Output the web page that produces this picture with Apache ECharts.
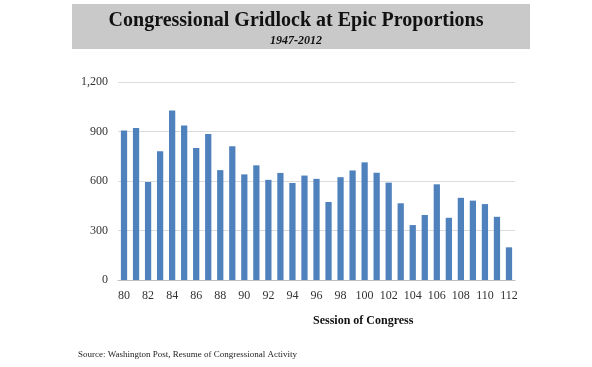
<!DOCTYPE html>
<html><head><meta charset="utf-8">
<script src="https://cdn.jsdelivr.net/npm/echarts@6/dist/echarts.min.js"></script>
<style>html,body{margin:0;padding:0;background:#fff}#c{width:592px;height:367px}</style>
</head><body><div id="c"></div>
<script>
const sessions = ['80','81','82','83','84','85','86','87','88','89','90','91','92','93','94','95','96','97','98','99','100','101','102','103','104','105','106','107','108','109','110','111','112'];
const lawsPassed = [906,921,594,781,1028,936,800,885,666,810,640,695,607,649,588,633,613,473,623,664,713,650,590,465,333,394,580,377,498,481,460,383,198];
const yTicks = [0,300,600,900,1200];

const chart = echarts.init(document.getElementById('c'), null, {renderer:'canvas'});
const serif = '"Liberation Serif","Times New Roman",serif';
chart.setOption({
  backgroundColor:'#fff',
  animation:false,
  graphic:[
    {type:'rect', shape:{x:72,y:4,width:458,height:45}, style:{fill:'#c9c9c9'}, z:-1},
    {type:'text', left:'center', top:11, style:{text:'Congressional Gridlock at Epic Proportions', font:'bold 20px '+serif, fill:'#111'}},
    {type:'text', left:'center', top:35, style:{text:'1947-2012', font:'italic bold 12px '+serif, fill:'#111'}},
    {type:'text', left:313, top:315, style:{text:'Session of Congress', font:'bold 12px '+serif, fill:'#111', align:'center'}},
    {type:'text', left:78, top:350, style:{text:'Source: Washington Post, Resume of Congressional Activity', font:'9px '+serif, fill:'#222'}}
  ],
  grid:{left:118, right:77, top:82, bottom:87, containLabel:false},
  xAxis:{type:'category', data:sessions,
    axisLine:{lineStyle:{color:'#bfbfbf'}}, axisTick:{show:false},
    axisLabel:{interval:1, color:'#333', fontFamily:serif, fontSize:12, margin:10}},
  yAxis:{type:'value', min:0, max:1200, interval:300,
    axisLine:{show:false}, axisTick:{show:false},
    splitLine:{lineStyle:{color:'#dcdcdc'}},
    axisLabel:{color:'#333', fontFamily:serif, fontSize:12, margin:10,
      formatter:v=>yTicks.includes(v)?v.toLocaleString('en-US'):''}},
  series:[{type:'bar', data:lawsPassed, barWidth:'52%', itemStyle:{color:'#4f81bd'}}]
});
</script></body></html>
